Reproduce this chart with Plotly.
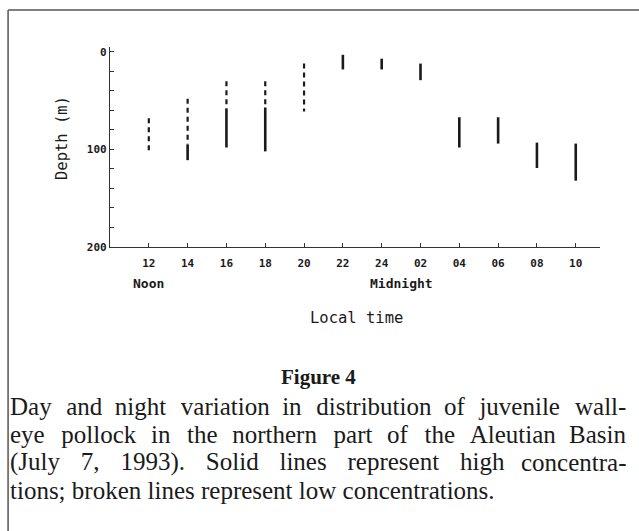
import plotly.graph_objects as go

# Local time on a continuous hour scale (24 = midnight, 26 = 02 h, ... 34 = 10 h)
tick_hours = [12, 14, 16, 18, 20, 22, 24, 26, 28, 30, 32, 34]
tick_labels = ["12", "14", "16", "18", "20", "22", "24", "02", "04", "06", "08", "10"]

# Low concentrations (broken lines): hour, upper and lower depth (m)
low_hours = [12, 14, 16, 18, 20]
low_top = [68, 48, 30, 30, 12]
low_bottom = [102, 95, 58, 56, 61]

# High concentrations (solid lines)
high_hours = [14, 16, 18, 22, 24, 26, 28, 30, 32, 34]
high_top = [95, 58, 57, 3, 7, 12, 67, 67, 93, 94]
high_bottom = [111, 98, 102, 18, 18, 29, 98, 94, 119, 132]

caption_title = "Figure 4"
caption_lines = [
    "Day and night variation in distribution of juvenile wall-",
    "eye pollock in the northern part of the Aleutian Basin",
    "(July 7, 1993). Solid lines represent high concentra-",
    "tions; broken lines represent low concentrations.",
]
# extra word spacing (cycled over the gaps) for the justified caption lines;
# the last line is set ragged
caption_gaps = [
    ["\u2004", "\u2005"],
    ["\u2004\u200a", "\u2004"],
    ["\u2002\u200a"],
    None,
]


def segments(hours, tops, bottoms):
    xs, ys = [], []
    for h, t, b in zip(hours, tops, bottoms):
        xs += [h, h, None]
        ys += [t, b, None]
    return xs, ys


mono = "DejaVu Sans Mono"
serif = "Liberation Serif"
ink = "#1a1a1a"

fig = go.Figure()

lx, ly = segments(low_hours, low_top, low_bottom)
fig.add_trace(go.Scatter(x=lx, y=ly, mode="lines",
                         line=dict(color=ink, width=2.2, dash="5px,4px"),
                         hoverinfo="skip", showlegend=False))

hx, hy = segments(high_hours, high_top, high_bottom)
fig.add_trace(go.Scatter(x=hx, y=hy, mode="lines",
                         line=dict(color=ink, width=2.6),
                         hoverinfo="skip", showlegend=False))

fig.update_xaxes(
    range=[10, 35.25], tickvals=tick_hours, ticktext=tick_labels,
    ticks="inside", ticklen=4, tickcolor="#333", showline=True,
    linecolor="#333", linewidth=1.2, showgrid=False, zeroline=False,
    ticklabelstandoff=6,
    tickfont=dict(family=mono, size=11, color=ink, weight="bold"),
)
fig.update_yaxes(
    range=[200, -5], tickvals=[0, 100, 200], ticktext=["0", "100", "200"],
    ticks="inside", ticklen=4, tickcolor="#333", showline=True,
    linecolor="#333", linewidth=1.2, showgrid=False, zeroline=False,
    minor=dict(dtick=20, tick0=0, ticks="inside", ticklen=4, tickcolor="#333"),
    tickfont=dict(family=mono, size=11, color=ink, weight="bold"),
)


def label(text, x, y, size, family=mono, xref="paper", xanchor="center", angle=0):
    return dict(x=x, y=y, xref=xref, yref="paper", text=text, showarrow=False,
                xanchor=xanchor, yanchor="middle", textangle=angle,
                font=dict(family=family, size=size, color=ink))


annotations = [
    label("Depth (m)", -0.098, 0.545, 15.5, angle=-90),
    label("<b>Noon</b>", 12, -0.18, 13, xref="x"),
    label("<b>Midnight</b>", 25, -0.18, 13, xref="x"),
    label("Local time", 0.503, -0.355, 15.5),
    label("<b>" + caption_title + "</b>", 0.4245, -0.65, 21, family=serif),
]

left_edge, right_edge = -0.208, 1.057
for i, (line, gaps) in enumerate(zip(caption_lines, caption_gaps)):
    y = -0.795 - 0.14 * i
    if gaps is None:
        annotations.append(label(line, left_edge, y, 25, family=serif, xanchor="left"))
        continue
    words = line.split(" ")
    head = words[0]
    for k, w in enumerate(words[1:-1]):
        head += " " + gaps[k % len(gaps)] + w
    annotations.append(label(head, left_edge, y, 25, family=serif, xanchor="left"))
    annotations.append(label(words[-1], right_edge, y, 25, family=serif, xanchor="right"))

shapes = [
    dict(type="line", xref="paper", yref="paper", x0=-0.208, x1=1.1, y0=1.185, y1=1.185,
         line=dict(color="#555", width=1.5)),
    dict(type="line", xref="paper", yref="paper", x0=-0.208, x1=-0.208, y0=1.185, y1=-1.42,
         line=dict(color="#555", width=1.5)),
]

fig.update_layout(
    width=639, height=531,
    margin=dict(l=110, r=39, t=47, b=284),
    paper_bgcolor="white", plot_bgcolor="white",
    annotations=annotations, shapes=shapes,
)

fig.write_html("out.html")
